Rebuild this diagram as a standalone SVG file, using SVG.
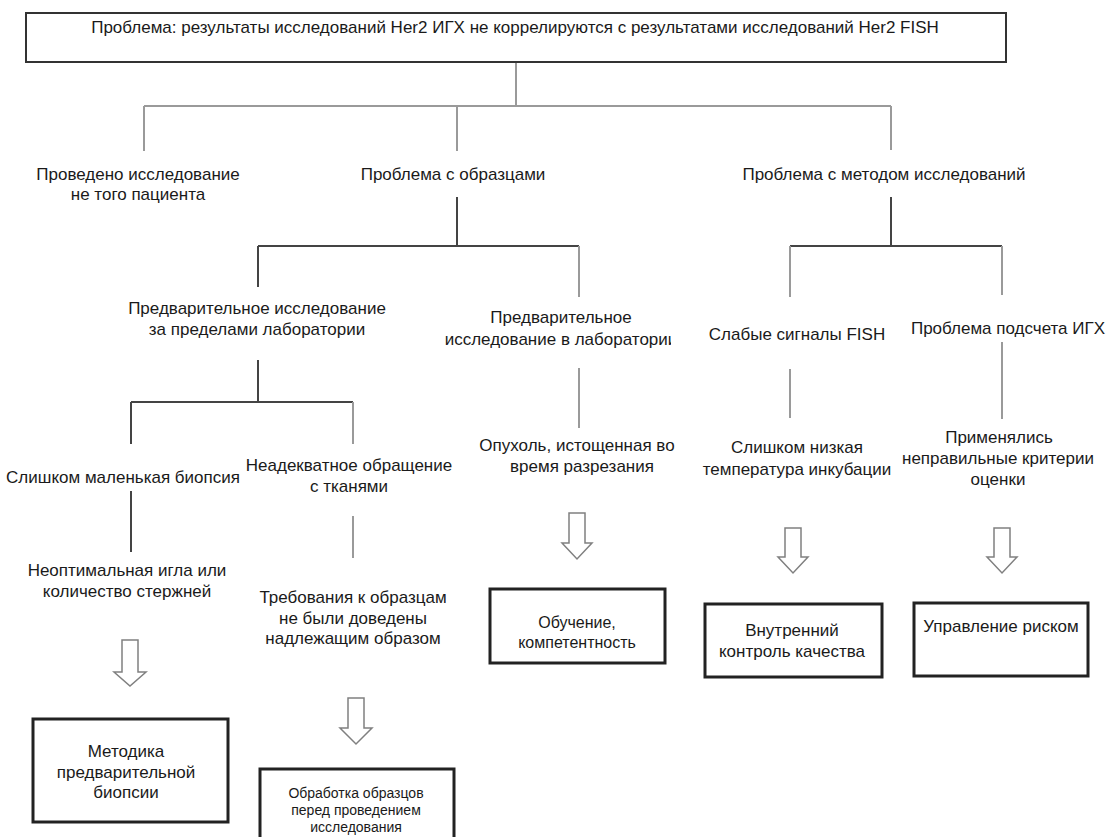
<svg xmlns="http://www.w3.org/2000/svg" width="1107" height="837" viewBox="0 0 1107 837">
<style>
text{font-family:"Liberation Sans",Arial,sans-serif;font-size:17px;fill:#1a1a1a;text-anchor:middle}
.small{font-size:14px}
.lt{stroke:#9a9a9a;stroke-width:2;fill:none}
.dk{stroke:#444;stroke-width:2;fill:none}
.box{fill:#fff;stroke:#222;stroke-width:3}
.top{fill:#fff;stroke:#333;stroke-width:2}
.arr{fill:#fff;stroke:#808080;stroke-width:1.5;stroke-linejoin:miter}
</style>
<defs>
<clipPath id="clipLab"><rect x="440" y="300" width="231" height="60"/></clipPath>
</defs>
<rect width="1107" height="837" fill="#fff"/>
<g id="connectors">
<path class="lt" d="M516,62V106M144,106H891M144,106V151M457,106V151M891,106V150"/>
<path class="dk" d="M457,197V246M258,246H579M258,246V287"/>
<path class="lt" d="M579,246V297"/>
<path class="dk" d="M891,197V246M790,246H1002"/>
<path class="lt" d="M790,246V297M1002,246V295"/>
<path class="dk" d="M258,360V402M131,402H353M131,402V444"/>
<path class="lt" d="M353,402V444"/>
<path class="dk" d="M131,491V552"/>
<path class="lt" d="M353,516V558M579,368V428M790,369V418M1002,342V419"/>
<path class="arr" d="M122,640H138V672H146L130,686L114,672H122Z"/>
<path class="arr" d="M348,698H364V728H372L356,744L340,728H348Z"/>
<path class="arr" d="M569,513H585V543H592L577,559L562,543H569Z"/>
<path class="arr" d="M785,528H801V557H808L793,573L778,557H785Z"/>
<path class="arr" d="M994,528H1010V557H1017L1002,573L987,557H994Z"/>
</g>
<g id="n-root">
<rect class="top" x="26" y="13" width="980" height="49"/>
<text x="515" y="33">Проблема: результаты исследований Her2 ИГХ не коррелируются с результатами исследований Her2 FISH</text>
</g>
<g id="n-patient">
<text x="138" y="180">Проведено исследование</text>
<text x="138" y="200">не того пациента</text>
</g>
<g id="n-samples"><text x="453" y="180">Проблема с образцами</text></g>
<g id="n-method"><text x="884" y="180">Проблема с методом исследований</text></g>
<g id="n-outside">
<text x="257" y="314">Предварительное исследование</text>
<text x="257" y="335">за пределами лаборатории</text>
</g>
<g id="n-inside" clip-path="url(#clipLab)">
<text x="561" y="323">Предварительное</text>
<text x="561" y="345">исследование в лаборатории</text>
</g>
<g id="n-fish"><text x="797" y="340">Слабые сигналы FISH</text></g>
<g id="n-ihc"><text x="1008" y="334">Проблема подсчета ИГХ</text></g>
<g id="n-biopsy"><text x="123" y="483">Слишком маленькая биопсия</text></g>
<g id="n-handling">
<text x="349" y="471">Неадекватное обращение</text>
<text x="349" y="492">с тканями</text>
</g>
<g id="n-tumor">
<text x="577" y="451">Опухоль, истощенная во</text>
<text x="582" y="472">время разрезания</text>
</g>
<g id="n-temp">
<text x="797" y="453">Слишком низкая</text>
<text x="797" y="475">температура инкубации</text>
</g>
<g id="n-criteria">
<text x="999" y="443">Применялись</text>
<text x="998" y="464">неправильные критерии</text>
<text x="998" y="485">оценки</text>
</g>
<g id="n-needle">
<text x="127" y="576">Неоптимальная игла или</text>
<text x="127" y="597">количество стержней</text>
</g>
<g id="n-requirements">
<text x="353" y="603">Требования к образцам</text>
<text x="353" y="624">не были доведены</text>
<text x="353" y="644">надлежащим образом</text>
</g>
<g id="n-method-biopsy">
<rect class="box" x="33" y="719" width="195" height="103"/>
<text x="126" y="757">Методика</text>
<text x="126" y="778">предварительной</text>
<text x="126" y="798">биопсии</text>
</g>
<g id="n-processing">
<rect class="box" x="260" y="769" width="194" height="80"/>
<text class="small" x="356" y="798">Обработка образцов</text>
<text class="small" x="356" y="815">перед проведением</text>
<text class="small" x="356" y="832">исследования</text>
</g>
<g id="n-training">
<rect class="box" x="490" y="589" width="175" height="74"/>
<text x="577" y="628" style="font-size:16px">Обучение,</text>
<text x="577" y="648" style="font-size:16px">компетентность</text>
</g>
<g id="n-qc">
<rect class="box" x="705" y="604" width="177" height="73"/>
<text x="792" y="636">Внутренний</text>
<text x="792" y="657">контроль качества</text>
</g>
<g id="n-risk">
<rect class="box" x="914" y="603" width="174" height="73"/>
<text x="1001" y="632">Управление риском</text>
</g>
</svg>
